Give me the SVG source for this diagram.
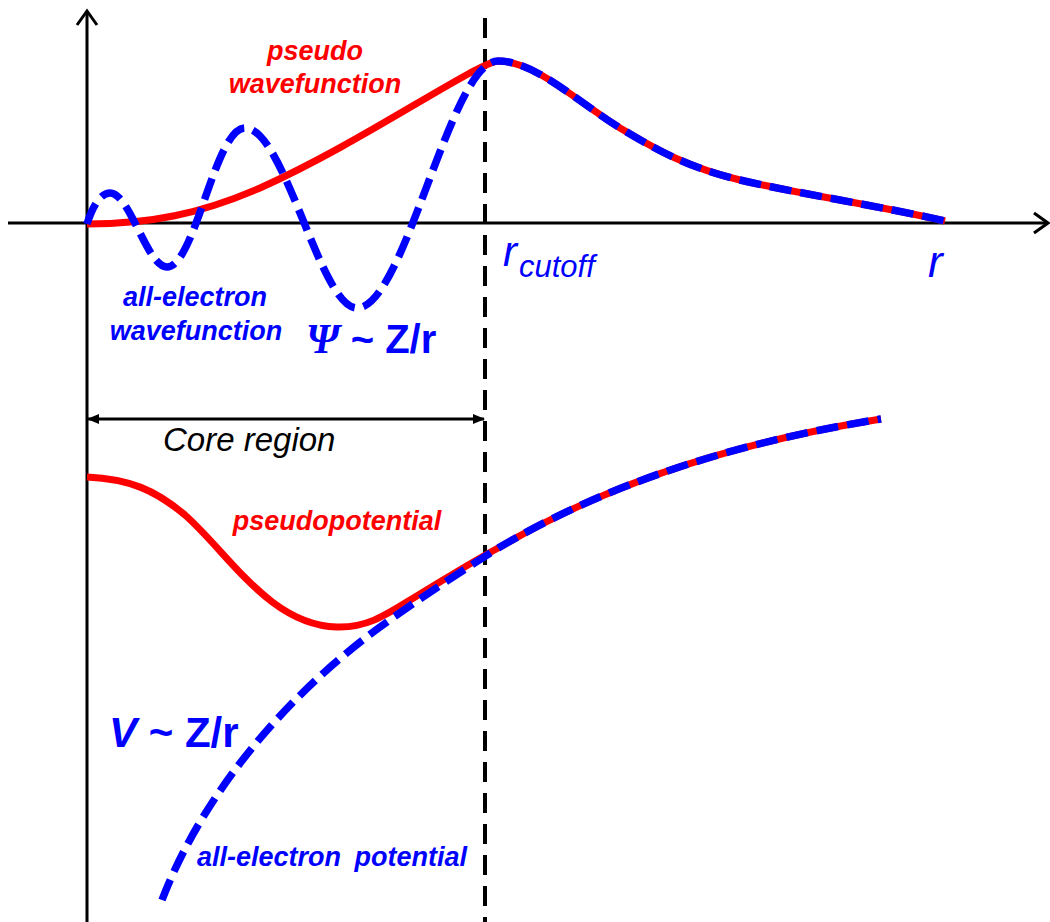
<svg xmlns="http://www.w3.org/2000/svg" width="1050" height="922" viewBox="0 0 1050 922">
<style>
.ax{stroke:#000;stroke-width:3;fill:none}
.cut{stroke:#000;stroke-width:4;fill:none;stroke-dasharray:20 11}
.ps{stroke:#ff0000;stroke-width:7;fill:none;stroke-linecap:butt}
.ae{stroke:#0000ff;stroke-width:7.5;fill:none;stroke-dasharray:22 9}
.lb{font-family:"Liberation Sans",Arial,sans-serif;font-weight:bold;font-style:italic;font-size:27px}
.red{fill:#ff0000}
.blue{fill:#0000ff}
</style>
<defs>
<marker id="ah" markerWidth="12" markerHeight="10" refX="11" refY="5" orient="auto-start-reverse" markerUnits="userSpaceOnUse">
<path d="M0,0 L12,5 L0,10 Z" fill="#000"/>
</marker>
</defs>
<g id="axes">
<line class="ax" x1="87" y1="922" x2="87" y2="11"/>
<polyline class="ax" points="77,25 87,11 97,25"/>
<line class="ax" x1="8" y1="223" x2="1048" y2="223"/>
<polyline class="ax" points="1034,213 1048,223 1034,233"/>
</g>
<g id="cutoff-line">
<line class="cut" x1="485" y1="18" x2="485" y2="922"/>
</g>
<g id="connectors">
<line x1="88" y1="419" x2="484" y2="419" stroke="#000" stroke-width="3" marker-start="url(#ah)" marker-end="url(#ah)"/>
</g>
<g id="pseudo-wavefunction">
<path class="ps" d="M87,224 C150,224 200,214 260,188 C340,152 420,100 470,73 C480,68 490,62 498,61 C535,61 575,100 620,128 C660,152 690,168 740,180 C800,194 880,206 945,221"/>
</g>
<g id="ae-wavefunction">
<path class="ae" d="M87,224 C92,208 100,193 110,193 C130,193 147,267 167,267 C195,267 215,128 245,128 C285,128 320,308 357,308 C405,308 450,61 498,61 C535,61 575,100 620,128 C660,152 690,168 740,180 C800,194 880,206 945,221"/>
</g>
<g id="pseudopotential">
<path class="ps" d="M87,477 C130,479 155,490 185,515 C230,555 270,625 337,627 C370,628 390,612 420,594 C450,576 470,563 500,547 C580,500 700,448 881,419"/>
</g>
<g id="ae-potential">
<path class="ae" d="M162,900 C200,800 280,700 380,627 C420,598 460,572 500,547 C580,500 700,448 881,419"/>
</g>
<g id="labels">
<text class="lb red" x="315" y="60" text-anchor="middle">pseudo</text>
<text class="lb red" x="315" y="93" text-anchor="middle">wavefunction</text>
<text class="lb blue" x="195" y="306" text-anchor="middle">all-electron</text>
<text class="lb blue" x="196" y="340" text-anchor="middle">wavefunction</text>
<text class="blue" x="306" y="353" font-size="40" font-weight="bold"><tspan font-family="'Liberation Serif','Times New Roman',serif" font-style="italic" font-size="42">Ψ</tspan><tspan font-family="'Liberation Sans',Arial,sans-serif"> ~ Z/r</tspan></text>
<text x="503" y="266" class="blue" font-family="'Liberation Sans',Arial,sans-serif" font-style="italic" font-size="42">r</text>
<text x="519" y="277" class="blue" font-family="'Liberation Sans',Arial,sans-serif" font-style="italic" font-size="31">cutoff</text>
<text x="928" y="277" class="blue" font-family="'Liberation Sans',Arial,sans-serif" font-style="italic" font-size="44">r</text>
<text x="163" y="451" fill="#000" font-family="'Liberation Sans',Arial,sans-serif" font-style="italic" font-size="33">Core region</text>
<text class="lb red" x="337" y="530" text-anchor="middle">pseudopotential</text>
<text class="blue" x="109" y="747" font-size="42" font-weight="bold" font-family="'Liberation Sans',Arial,sans-serif"><tspan font-style="italic">V</tspan> ~ Z/r</text>
<text class="lb blue" x="197" y="866" word-spacing="6">all-electron potential</text>
</g>
</svg>
